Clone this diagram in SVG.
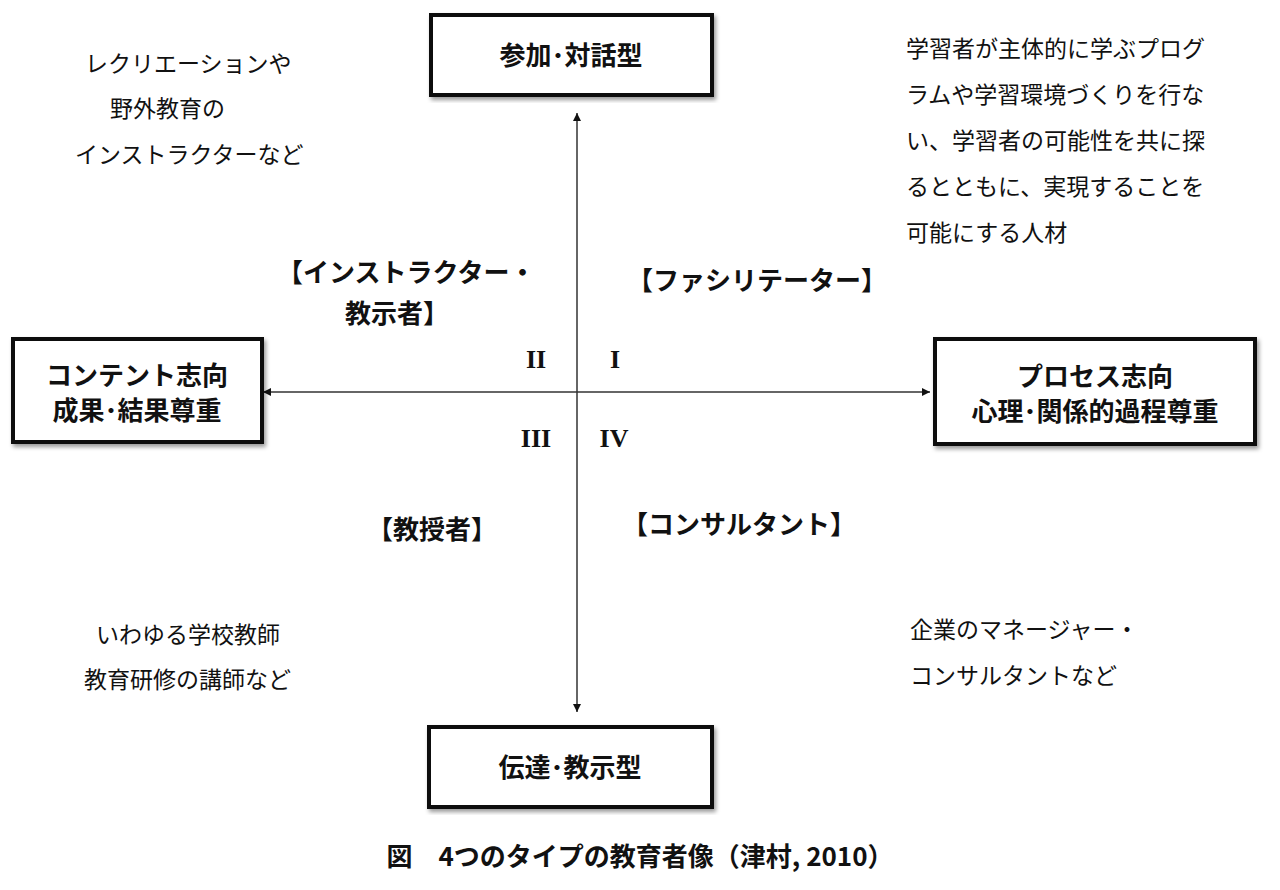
<svg xmlns="http://www.w3.org/2000/svg" width="1280" height="890" viewBox="0 0 1280 890">
<style>
.box{fill:#fff;stroke:#111;stroke-width:4}
.bt{font-family:"Noto Sans CJK JP",sans-serif;font-weight:bold;font-size:26px;fill:#111;text-anchor:middle}
.t{font-family:"Noto Sans CJK JP",sans-serif;font-size:23px;fill:#111}
.lb{font-family:"Noto Sans CJK JP",sans-serif;font-weight:bold;font-size:26px;fill:#111}
.rn{font-family:"Liberation Serif",serif;font-weight:bold;font-size:26px;fill:#111;text-anchor:middle}
.ax{stroke:#333;stroke-width:1.5;fill:none}
</style>
<defs>
<marker id="ah" viewBox="0 0 10 10" refX="10" refY="5" markerWidth="8" markerHeight="8" orient="auto-start-reverse" markerUnits="userSpaceOnUse"><path d="M0,0 L10,5 L0,10 Z" fill="#111"/></marker>
<filter id="sh"><feDropShadow dx="2" dy="3" stdDeviation="2" flood-opacity="0.4"/></filter>
</defs>
<rect width="1280" height="890" fill="#fff"/>
<g id="connectors">
<line class="ax" x1="577" y1="113" x2="577" y2="712" marker-start="url(#ah)" marker-end="url(#ah)"/>
<line class="ax" x1="263" y1="392" x2="930" y2="392" marker-start="url(#ah)" marker-end="url(#ah)"/>
</g>
<g id="top"><rect class="box" x="431" y="15" width="281" height="80" filter="url(#sh)"/><text class="bt" x="571" y="65">参加･対話型</text></g>
<g id="bottom"><rect class="box" x="429" y="727" width="283" height="80" filter="url(#sh)"/><text class="bt" x="570" y="777">伝達･教示型</text></g>
<g id="left"><rect class="box" x="13" y="339" width="249" height="103" filter="url(#sh)"/><text class="bt" x="137" y="385">コンテント志向</text><text class="bt" x="137" y="420">成果･結果尊重</text></g>
<g id="right"><rect class="box" x="935" y="339" width="320" height="105" filter="url(#sh)"/><text class="bt" x="1095" y="386">プロセス志向</text><text class="bt" x="1095" y="421">心理･関係的過程尊重</text></g>
<g id="roman">
<text class="rn" x="536" y="368">II</text><text class="rn" x="615" y="368">I</text>
<text class="rn" x="536" y="447">III</text><text class="rn" x="614" y="447">IV</text>
</g>
<g id="labels">
<text class="lb" x="277" y="282">【インストラクター・</text>
<text class="lb" x="345" y="323">教示者】</text>
<text class="lb" x="627" y="290">【ファシリテーター】</text>
<text class="lb" x="367" y="539">【教授者】</text>
<text class="lb" x="622" y="534">【コンサルタント】</text>
</g>
<g id="notes">
<text class="t" x="85" y="72">レクリエーションや</text>
<text class="t" x="110" y="117">野外教育の</text>
<text class="t" x="75" y="163">インストラクターなど</text>
<text class="t" x="906" y="57">学習者が主体的に学ぶプログ</text>
<text class="t" x="906" y="103">ラムや学習環境づくりを行な</text>
<text class="t" x="906" y="149">い、学習者の可能性を共に探</text>
<text class="t" x="906" y="195">るとともに、実現することを</text>
<text class="t" x="906" y="241">可能にする人材</text>
<text class="t" x="96" y="643">いわゆる学校教師</text>
<text class="t" x="84" y="688">教育研修の講師など</text>
<text class="t" x="910" y="638">企業のマネージャー・</text>
<text class="t" x="910" y="684">コンサルタントなど</text>
</g>
<text id="caption" x="640" y="866" text-anchor="middle" font-family="Noto Sans CJK JP,sans-serif" font-weight="bold" font-size="26" fill="#111">図　4つのタイプの教育者像（津村, 2010）</text>
</svg>
